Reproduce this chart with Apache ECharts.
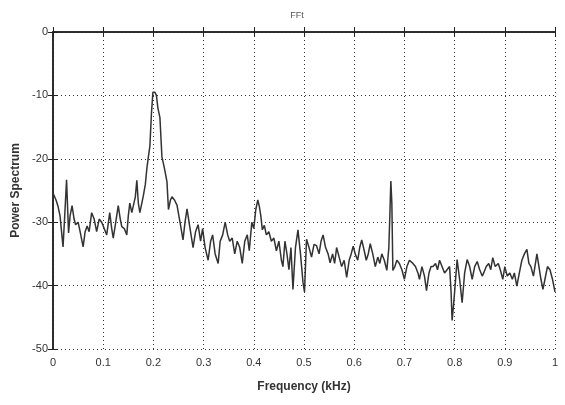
<!DOCTYPE html>
<html>
<head>
<meta charset="utf-8">
<script src="https://cdn.jsdelivr.net/npm/echarts@6/dist/echarts.min.js"></script>
<style>
html,body{margin:0;padding:0;background:#fff;}
#c{width:565px;height:405px;}
</style>
</head>
<body>
<div id="c"></div>
<script>
var titleText = 'FFt';
var xAxisName = 'Frequency (kHz)';
var yAxisName = 'Power Spectrum';
var xTicks = [0, 0.1, 0.2, 0.3, 0.4, 0.5, 0.6, 0.7, 0.8, 0.9, 1];
var yTicks = [-50, -40, -30, -20, -10, 0];

var freq = [
0.000,0.006,0.010,0.014,0.020,0.024,0.027,0.031,0.034,0.038,0.042,0.045,0.050,0.054,0.060,0.064,0.068,0.072,0.077,0.082,
0.087,0.092,0.097,0.102,0.107,0.113,0.117,0.120,0.125,0.130,0.134,0.137,0.142,0.147,0.150,0.153,0.157,0.160,0.164,0.167,
0.170,0.173,0.177,0.180,0.184,0.187,0.190,0.193,0.196,0.199,0.203,0.206,0.209,0.213,0.217,0.222,0.227,0.230,0.234,0.237,
0.242,0.247,0.253,0.259,0.263,0.267,0.272,0.275,0.279,0.284,0.289,0.294,0.298,0.303,0.309,0.314,0.318,0.323,0.329,0.333,
0.338,0.343,0.348,0.352,0.357,0.362,0.367,0.372,0.377,0.382,0.387,0.391,0.396,0.400,0.404,0.408,0.411,0.414,0.417,0.421,
0.425,0.430,0.435,0.440,0.445,0.450,0.455,0.458,0.462,0.466,0.470,0.474,0.478,0.483,0.488,0.493,0.498,0.501,0.505,0.510,
0.515,0.520,0.525,0.530,0.534,0.538,0.543,0.548,0.552,0.557,0.561,0.565,0.570,0.575,0.580,0.585,0.590,0.594,0.598,0.602,
0.607,0.611,0.615,0.620,0.624,0.628,0.632,0.637,0.642,0.647,0.651,0.655,0.660,0.665,0.669,0.671,0.673,0.675,0.677,0.681,
0.685,0.690,0.695,0.700,0.705,0.710,0.713,0.717,0.722,0.727,0.730,0.735,0.740,0.744,0.749,0.753,0.757,0.762,0.766,0.770,
0.775,0.780,0.785,0.790,0.793,0.795,0.798,0.801,0.805,0.810,0.815,0.820,0.825,0.830,0.835,0.840,0.845,0.850,0.855,0.858,
0.863,0.868,0.872,0.876,0.881,0.887,0.891,0.896,0.900,0.905,0.910,0.915,0.919,0.924,0.929,0.934,0.939,0.944,0.948,0.952,
0.957,0.960,0.964,0.968,0.972,0.976,0.980,0.985,0.990,0.995,1.000
];
var power = [
-25.4,-26.5,-27.5,-29,-33.9,-28,-23.3,-31.7,-29,-27.4,-29.5,-30.4,-30,-31.5,-33.9,-31.5,-30.6,-31.5,-28.5,-29.5,
-31.5,-29.5,-30,-31,-32,-28.5,-31,-32.5,-30,-27.4,-29.5,-30.7,-31,-32,-29,-27,-28.5,-28.5,-26,-23.4,
-27,-28.5,-27,-25.8,-24,-21.5,-19.7,-18,-13,-9.5,-9.5,-10,-12,-13.5,-19.7,-21.5,-23.6,-28,-26.5,-26,
-26.5,-27.3,-30,-32.8,-30,-27.9,-30.5,-32,-34,-31.5,-30.4,-33,-31,-34,-36,-33,-32,-35,-36.5,-33,
-32,-30,-32,-33,-32.5,-35,-33,-34,-36.5,-33,-32,-34.5,-30,-31,-28,-26.5,-27.5,-29,-31.2,-30.5,
-32,-31.5,-33,-32.5,-34.5,-33,-36,-37,-33,-35,-37.5,-34,-40.6,-34,-31.2,-35,-39.5,-41,-32.7,-34,
-35.5,-33.5,-33.7,-35,-33,-32,-34,-35,-36.4,-35,-36.5,-34,-35.5,-37,-36,-38.7,-36,-35,-33.8,-35,
-36,-34,-32.8,-34.5,-36,-35,-33.4,-35,-37,-35.5,-36.5,-35,-36,-37.6,-34,-29,-23.5,-27,-37.6,-37,
-36,-36.5,-37.5,-39,-37,-36,-35.8,-36.5,-37,-38,-39,-37,-38.5,-40.8,-38,-37,-37,-36.5,-37.5,-36,
-37,-38,-37.5,-37,-41,-45.5,-43,-40,-35.9,-39,-42.7,-38,-35.9,-37,-39,-37,-36.2,-37.5,-38.5,-38,
-37,-36.5,-37.5,-35.6,-37,-36.5,-37.5,-39,-37,-38.5,-38,-39,-38,-40.1,-38,-36,-35,-34.3,-36.5,-37,
-38.5,-37,-35,-37,-39,-40.6,-39,-37,-37.5,-39,-41
];

var seriesData = freq.map(function (f, i) { return [f, power[i]]; });

var fontFam = '"Liberation Sans Narrow", "Liberation Sans", Arial, sans-serif';
var chart = echarts.init(document.getElementById('c'), null, {renderer: 'canvas'});

function fmtX(v) {
  for (var i = 0; i < xTicks.length; i++) {
    if (Math.abs(xTicks[i] - v) < 1e-6) return String(xTicks[i]);
  }
  return '';
}

var gridLine = {show: true, lineStyle: {color: '#333', type: [1, 3], width: 1}};

chart.setOption({
  backgroundColor: '#ffffff',
  animation: false,
  title: {
    text: titleText,
    left: 292, top: 6, textAlign: 'center',
    textStyle: {fontSize: 9, fontWeight: 'normal', color: '#555', fontFamily: fontFam}
  },
  grid: {left: 53, right: 10, top: 32, bottom: 56, containLabel: false},
  xAxis: [{
    type: 'value', min: 0, max: 1, interval: 0.1, position: 'bottom',
    name: xAxisName, nameLocation: 'middle', nameGap: 32,
    nameTextStyle: {fontSize: 12, fontWeight: 'bold', color: '#333', fontFamily: 'Liberation Sans, Arial, sans-serif'},
    axisLine: {show: true, lineStyle: {color: '#222', width: 1.5}},
    axisTick: {show: true, inside: true, length: 5, lineStyle: {color: '#222'}},
    axisLabel: {formatter: fmtX, fontSize: 11, color: '#333', fontFamily: fontFam, margin: 8},
    splitLine: gridLine
  }, {
    type: 'value', min: 0, max: 1, interval: 0.1, position: 'top',
    axisLine: {show: true, lineStyle: {color: '#222', width: 1.5}},
    axisTick: {show: true, inside: true, length: 5, lineStyle: {color: '#222'}},
    axisLabel: {show: false},
    splitLine: {show: false}
  }],
  yAxis: [{
    type: 'value', min: -50, max: 0, interval: 10, position: 'left',
    name: yAxisName, nameLocation: 'middle', nameGap: 27, nameRotate: 90,
    nameTextStyle: {fontSize: 12, fontWeight: 'bold', color: '#333', fontFamily: 'Liberation Sans, Arial, sans-serif'},
    axisLine: {show: true, lineStyle: {color: '#222', width: 1.5}},
    axisTick: {show: true, inside: true, length: 5, lineStyle: {color: '#222'}},
    axisLabel: {fontSize: 11, color: '#333', fontFamily: fontFam, margin: 5},
    splitLine: gridLine
  }, {
    type: 'value', min: -50, max: 0, interval: 10, position: 'right',
    axisLine: {show: true, lineStyle: {color: '#222', width: 1.5}},
    axisTick: {show: true, inside: true, length: 5, lineStyle: {color: '#222'}},
    axisLabel: {show: false},
    splitLine: {show: false}
  }],
  series: [{
    type: 'line',
    data: seriesData,
    xAxisIndex: 0, yAxisIndex: 0,
    showSymbol: false,
    lineStyle: {color: '#333', width: 1.5},
    z: 5
  }]
});
</script>
</body>
</html>
